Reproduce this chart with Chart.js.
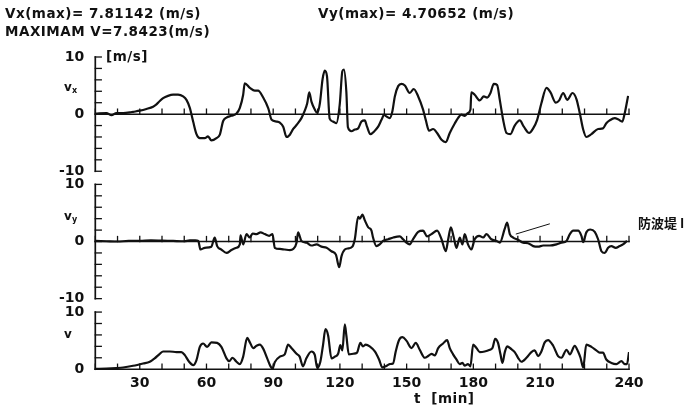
<!DOCTYPE html>
<html>
<head>
<meta charset="utf-8">
<script src="https://cdn.jsdelivr.net/npm/chart.js@4.4.1/dist/chart.umd.min.js"></script>
<style>
  html, body { margin: 0; padding: 0; background: #fff; }
</style>
</head>
<body>
<canvas id="c" width="691" height="415"></canvas>
<script>
// time [min] and velocity [m/s] of each component
const T_VX = [10.1, 15.0, 17.3, 19.5, 22.5, 25.5, 27.0, 30.0, 33.0, 36.0, 37.5, 39.0, 40.5, 42.7, 45.0, 47.2, 49.5, 51.0, 52.5, 54.0,
  55.5, 57.0, 59.2, 60.7, 62.2, 64.5, 66.0, 67.5, 69.0, 71.2, 73.5, 75.0, 76.5, 77.2, 79.5, 81.7, 83.2, 85.5, 87.8, 89.3,
  91.5, 93.0, 94.5, 96.0, 97.5, 99.0, 100.5, 102.7, 104.2, 105.3, 106.2, 107.2, 108.7, 109.8, 111.0, 112.2, 113.2, 114.2, 115.4, 116.9,
  118.4, 119.9, 121.1, 121.8, 122.9, 123.6, 125.2, 126.7, 128.2, 129.7, 131.2, 132.2, 133.7, 135.7, 137.2, 138.7, 139.9, 140.9, 142.4, 143.6,
  144.7, 146.2, 147.7, 149.2, 151.4, 153.2, 155.2, 157.4, 158.6, 160.1, 161.9, 163.7, 165.7, 167.6, 169.4, 171.7, 173.1, 174.6, 176.1, 177.6,
  178.7, 179.1, 180.6, 182.9, 184.7, 186.2, 187.7, 189.2, 190.7, 191.9, 193.4, 194.9, 196.7, 198.6, 200.9, 202.7, 205.1, 206.9, 208.7, 210.6,
  212.9, 214.7, 217.1, 218.6, 220.4, 222.2, 224.6, 226.4, 227.9, 229.4, 230.8, 233.1, 236.1, 238.3, 239.8, 241.3, 243.6, 245.1, 247.0, 248.1, 249.6];
const VX = [0.1, 0.2, -0.2, 0.2, 0.2, 0.3, 0.4, 0.6, 0.9, 1.3, 1.7, 2.3, 2.8, 3.2, 3.4, 3.4, 3.1, 2.5, 1.1, -1.3,
  -3.5, -4.2, -4.2, -3.9, -4.6, -4.2, -3.6, -1.2, -0.6, -0.3, 0.1, 1.1, 3.4, 5.4, 4.6, 4.1, 4.1, 2.9, 1.0, -1.0,
  -1.3, -1.5, -2.2, -4.0, -3.6, -2.6, -1.9, -0.7, 0.6, 1.9, 3.8, 2.2, 0.8, 0.2, 1.9, 6.1, 7.6, 6.6, -0.8, -1.3,
  -1.6, 1.6, 7.5, 7.81, 3.9, -2.3, -3.0, -2.7, -2.5, -1.3, -1.1, -2.2, -3.5, -2.9, -2.2, -1.0, -0.1, -0.4, -0.7, 0.5,
  3.1, 4.9, 5.3, 5.0, 3.7, 4.4, 3.1, 0.8, -1.0, -2.9, -2.6, -3.3, -4.5, -4.9, -3.3, -1.6, -0.7, -0.1, -0.3, 0.2,
  0.8, 3.8, 3.4, 2.4, 3.1, 2.9, 3.7, 5.3, 5.1, 2.5, -1.0, -3.3, -3.5, -2.0, -1.1, -2.2, -3.3, -2.5, -1.0, 1.9,
  4.6, 3.8, 2.0, 2.4, 3.7, 2.5, 3.7, 2.6, 0.1, -2.7, -4.0, -3.5, -2.6, -2.5, -1.6, -1.1, -0.7, -0.9, -1.3, 0.2, 3.2];

const T_VY = [10, 15, 20, 25, 30, 35, 40, 45, 50, 52.5, 55, 56.3, 57.3, 59.2, 62.2, 63.7, 64.8, 66.7, 69.0, 71.2,
  73.5, 75.0, 75.3, 76.5, 78.0, 79.5, 80.7, 82.5, 84.3, 86.2, 88.2, 89.7, 90.7, 93.0, 95.2, 97.5, 99.0, 100.5, 101.2, 102.7,
  105.0, 107.2, 109.5, 111.7, 114.0, 116.2, 118.2, 119.7, 120.7, 122.2, 123.9, 125.6, 126.7, 128.2, 129.0, 130.1, 131.2, 132.7, 134.2, 134.9,
  136.4, 137.9, 139.4, 141.7, 144.0, 146.9, 148.4, 149.9, 151.4, 152.9, 155.2, 157.4, 159.2, 161.2, 163.7, 165.7, 167.6, 168.7, 169.9, 171.2,
  172.4, 173.9, 175.1, 176.1, 177.6, 179.1, 180.6, 182.6, 184.4, 185.9, 188.1, 190.4, 191.9, 194.1, 195.2, 196.4, 197.9, 200.1, 202.4, 204.6,
  206.9, 209.1, 211.4, 214.4, 217.4, 219.6, 221.9, 223.4, 224.9, 227.1, 228.6, 229.4, 230.8, 232.6, 234.6, 236.1, 237.6, 239.1, 240.6, 242.1,
  244.0, 245.8, 247.3, 249.1];
const VY = [0.1, 0.05, 0.0, 0.1, 0.1, 0.2, 0.15, 0.1, 0.05, 0.2, 0.2, 0.1, -1.4, -1.1, -0.9, 0.7, -0.8, -1.4, -2.0, -1.5,
  -1.1, -0.5, 1.1, -0.5, 1.3, 0.7, 1.4, 1.3, 1.6, 1.3, 1.0, 1.3, -1.1, -1.3, -1.4, -1.5, -1.3, -0.2, 1.6, 0.1,
  -0.2, -0.7, -0.5, -0.9, -1.1, -1.7, -2.3, -4.5, -2.6, -1.4, -1.2, -0.9, 0.4, 4.3, 4.0, 4.71, 3.7, 2.5, 1.9, 0.7,
  -0.8, -0.5, 0.1, 0.4, 0.7, 0.9, 0.4, -0.2, -0.5, 0.4, 1.7, 1.9, 0.9, 1.3, 1.9, 0.4, -1.7, 0.4, 2.5, 0.7,
  -1.1, 0.7, -0.5, 1.3, -0.5, -1.4, 0.4, 1.0, 0.7, 1.3, 0.4, 0.1, -0.2, 2.2, 3.3, 1.3, 0.7, 0.3, -0.2, -0.3,
  -0.8, -0.9, -0.7, -0.7, -0.5, -0.2, 0.1, 1.3, 1.9, 1.9, 1.0, -0.1, 1.6, 2.1, 1.7, 0.4, -1.7, -2.0, -1.1, -0.8,
  -1.1, -0.8, -0.5, 0.1];

const T_V = [10, 15, 19.5, 22.5, 27.0, 31.5, 34.5, 36.7, 39.0, 40.5, 43.5, 46.5, 48.7, 50.2, 52.2, 54.0, 55.5, 57.0, 58.5, 60.3,
  62.2, 64.8, 66.7, 69.0, 70.2, 71.7, 73.5, 75.0, 76.5, 78.3, 79.5, 81.0, 82.5, 84.0, 85.5, 87.3, 88.8, 89.7, 90.7, 93.0,
  95.2, 96.7, 98.2, 100.5, 101.9, 103.4, 104.9, 107.2, 108.7, 109.8, 111.2, 112.4, 113.5, 114.7, 116.2, 117.7, 119.2, 120.2, 121.1, 122.2,
  122.9, 124.0, 126.0, 127.7, 129.2, 130.4, 131.6, 133.4, 135.7, 137.6, 139.1, 140.6, 142.4, 143.9, 145.1, 146.6, 148.1, 149.9, 152.2, 154.1,
  155.9, 158.2, 159.7, 161.2, 162.7, 164.2, 166.4, 168.2, 169.4, 170.9, 172.4, 173.9, 175.1, 176.1, 177.6, 178.7, 179.9, 181.4, 182.9, 185.1,
  187.4, 188.6, 189.8, 191.1, 192.2, 193.1, 194.1, 195.2, 197.1, 198.6, 200.1, 201.6, 203.9, 206.1, 207.6, 209.1, 210.6, 212.1, 213.6, 215.9,
  218.1, 219.6, 221.9, 223.4, 225.6, 227.1, 228.2, 229.4, 230.8, 233.1, 235.3, 236.8, 238.3, 239.8, 242.1, 244.3, 246.6, 248.1, 249.1, 250];
const V = [0.05, 0.1, 0.2, 0.3, 0.6, 1.0, 1.3, 1.9, 2.7, 3.1, 3.1, 3.0, 3.0, 2.5, 1.3, 0.7, 1.6, 3.9, 4.5, 3.9,
  4.7, 4.6, 3.9, 1.9, 1.4, 2.0, 1.3, 0.9, 2.2, 5.5, 4.7, 3.7, 4.1, 4.3, 3.6, 1.9, 0.5, 0.1, 1.2, 2.2,
  2.6, 4.3, 3.7, 2.7, 2.2, 0.5, 1.9, 3.1, 2.5, 0.2, 1.3, 4.2, 7.0, 5.9, 1.9, 2.2, 2.7, 4.2, 3.3, 7.84,
  5.9, 2.6, 2.7, 2.9, 4.6, 4.0, 4.3, 4.0, 3.1, 1.7, 0.3, 0.5, 0.9, 1.0, 3.1, 5.1, 5.6, 5.0, 3.7, 4.6,
  3.4, 2.0, 2.3, 2.7, 2.4, 3.7, 4.5, 5.1, 3.7, 2.6, 1.7, 0.9, 1.1, 0.6, 0.9, 0.5, 4.3, 3.7, 3.0, 3.1,
  3.4, 3.7, 5.3, 4.6, 2.6, 1.1, 2.9, 4.0, 3.5, 3.0, 2.0, 1.3, 2.0, 3.0, 3.3, 2.3, 3.1, 4.7, 5.1, 4.1,
  2.3, 2.0, 3.4, 2.6, 4.1, 3.1, 2.0, 0.3, 4.3, 3.9, 3.3, 2.9, 2.9, 1.7, 1.1, 0.9, 1.4, 0.9, 0.9, 3.0];

// short pen stroke drawn across the vy trace
const T_STROKE = [199.1, 214.4];
const V_STROKE = [1.3, 3.1];

// labelled ticks of the time axis
const X_TICKS = [30, 60, 90, 120, 150, 180, 210, 250];
const X_TICK_LABELS = ['30', '60', '90', '120', '150', '180', '210', '240'];

const pts = (ts, vs) => ts.map((t, i) => ({ x: t, y: vs[i] }));

const FONT = '"DejaVu Sans", sans-serif';
const INK = '#111';
const PANELS = ['yVx', 'yVy', 'yV'];

const trace = (data, yAxisID) => ({
  data, yAxisID, xAxisID: 'x',
  borderColor: INK, borderWidth: 2.2, pointRadius: 0,
  cubicInterpolationMode: 'monotone', fill: false
});

// y axis of one panel, labels only at -10, 0, 10
const panelAxis = (min, weight) => ({
  type: 'linear', position: 'left', stack: 'panels', stackWeight: weight,
  min, max: 10,
  border: { display: false },
  grid: { display: false, drawTicks: false },
  ticks: {
    stepSize: 2, autoSkip: false, padding: 11, color: INK,
    font: { family: FONT, size: 14, weight: 'bold' },
    callback: v => (v % 10 === 0 ? String(v) : '')
  }
});
const gapAxis = (weight) => ({
  type: 'linear', position: 'left', stack: 'panels', stackWeight: weight,
  min: 0, max: 1, display: false
});

// panel frames: left axis with inward ticks every 2 m/s,
// zero line with upward ticks every 10 min
const frame = {
  id: 'frame',
  beforeDatasetsDraw(chart) {
    const { ctx, scales } = chart;
    const x = scales.x;
    const line = (x1, y1, x2, y2) => {
      ctx.beginPath();
      ctx.moveTo(x1, y1);
      ctx.lineTo(x2, y2);
      ctx.stroke();
    };
    ctx.save();
    ctx.strokeStyle = INK;
    ctx.lineCap = 'square';
    const left = x.getPixelForValue(x.min);
    const right = x.getPixelForValue(x.max);
    for (const id of PANELS) {
      const y = scales[id];
      ctx.lineWidth = 1.7;
      line(left, y.getPixelForValue(y.max), left, y.getPixelForValue(y.min));
      ctx.lineWidth = 1.3;
      for (let v = y.min; v <= y.max; v += 2) {
        const py = y.getPixelForValue(v);
        line(left, py, left + 6, py);
      }
      const y0 = y.getPixelForValue(0);
      ctx.lineWidth = 1.5;
      line(left, y0, right, y0);
      ctx.lineWidth = 1.3;
      for (const t of x.ticks) {
        const px = x.getPixelForValue(t.value);
        line(px, y0, px, y0 - 5);
      }
    }
    ctx.restore();
  }
};

const labels = {
  id: 'labels',
  afterDraw(chart) {
    const { ctx, scales } = chart;
    ctx.save();
    ctx.fillStyle = INK;
    ctx.textBaseline = 'middle';
    ctx.font = 'bold 13.5px ' + FONT;
    ctx.letterSpacing = '0.5px';
    ctx.fillText('Vx(max)= 7.81142 (m/s)', 5, 14);
    ctx.fillText('Vy(max)= 4.70652 (m/s)', 318, 14);
    ctx.fillText('MAXIMAM V=7.8423(m/s)', 5, 32);
    ctx.fillText('[m/s]', 106, 57);
    ctx.fillText('t  [min]', 414, 399);

    // component symbols beside each panel
    const sym = (main, sub, y) => {
      ctx.font = 'bold 12px ' + FONT;
      ctx.letterSpacing = '0px';
      ctx.fillText(main, 64, y);
      if (sub) {
        ctx.font = 'bold 8px ' + FONT;
        ctx.fillText(sub, 72, y + 3);
      }
    };
    sym('v', 'x', scales.yVx.getPixelForValue(4.6));
    sym('v', 'y', scales.yVy.getPixelForValue(4.3));
    sym('v', '', scales.yV.getPixelForValue(6));

    ctx.font = 'bold 13px "Noto Sans CJK JP"';
    ctx.letterSpacing = '0px';
    ctx.fillText('防波堤 I', 638, 223);
    ctx.restore();
  }
};

new Chart(document.getElementById('c'), {
  type: 'line',
  data: {
    datasets: [
      trace(pts(T_VX, VX), 'yVx'),
      trace(pts(T_VY, VY), 'yVy'),
      trace(pts(T_V, V), 'yV'),
      { data: pts(T_STROKE, V_STROKE), yAxisID: 'yVy', xAxisID: 'x', borderColor: INK, borderWidth: 1, pointRadius: 0 }
    ]
  },
  options: {
    responsive: false,
    animation: false,
    layout: { padding: { left: 48, top: 57, right: 62, bottom: 17 } },
    plugins: { legend: { display: false }, tooltip: { enabled: false } },
    scales: {
      x: {
        type: 'linear', min: 10, max: 250,
        border: { display: false },
        grid: { display: false, drawTicks: false },
        ticks: {
          stepSize: 10, autoSkip: false, maxRotation: 0, padding: 6, color: INK,
          font: { family: FONT, size: 14, weight: 'bold' },
          callback: v => {
            const i = X_TICKS.indexOf(v);
            return i >= 0 ? X_TICK_LABELS[i] : '';
          }
        }
      },
      yV: panelAxis(0, 10),
      yGap2: gapAxis(2.35),
      yVy: panelAxis(-10, 20),
      yGap1: gapAxis(2.3),
      yVx: panelAxis(-10, 20)
    }
  },
  plugins: [frame, labels]
});
</script>
</body>
</html>
